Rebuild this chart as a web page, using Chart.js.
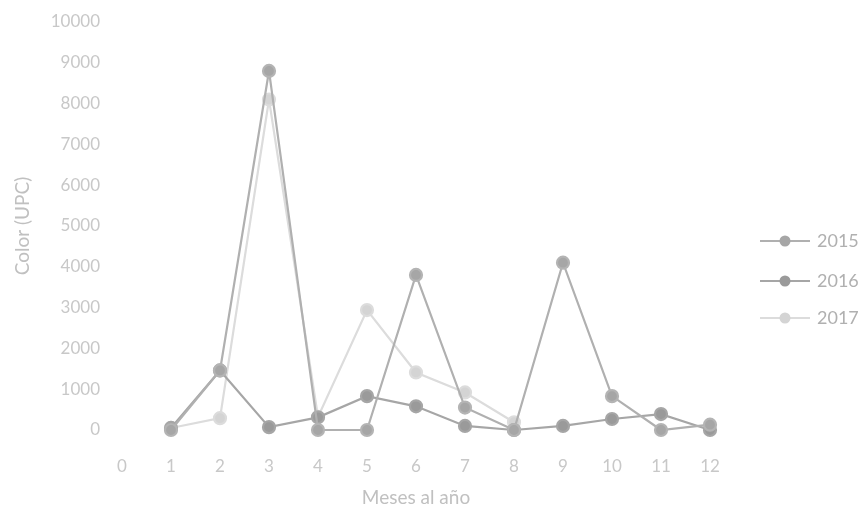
<!DOCTYPE html>
<html lang="es">
<head>
    <meta charset="UTF-8">
    <title>Color (UPC) por mes</title>
    <script src="https://cdn.jsdelivr.net/npm/chart.js"></script>
    <style>
        body {
            margin: 0;
            background: #fff;
        }
        canvas {
            display: block;
        }
    </style>
</head>
<body>
    <canvas id="colorChart" width="865" height="514"></canvas>

    <script>
        // months on the x axis
        const months = [1, 2, 3, 4, 5, 6, 7, 8, 9, 10, 11, 12];

        // Color (UPC)
        const color2015 = [0, 1460, 8800, 0, 0, 3800, 550, 0, 4100, 830, 0, 130];
        const color2016 = [50, 1460, 70, 310, 830, 580, 100, 0, 100, 270, 390, 0];
        const color2017 = [50, 290, 8100, 320, 2940, 1410, 920, 190]; // only up to August

        const seriesLabels = ['2015', '2016', '2017'];

        const textColor = '#c8c8c8';
        const fontName = 'Lato, "Open Sans", sans-serif';

        function toPoints(values) {
            return values.map((v, i) => ({ x: months[i], y: v }));
        }

        // legend drawn at the right, like in the original sheet
        const sideLegend = {
            id: 'sideLegend',
            afterDraw(chart) {
                const ctx = chart.ctx;
                const rows = [241, 281, 318];
                ctx.save();
                chart.data.datasets.forEach((ds, i) => {
                    const y = rows[i];
                    ctx.strokeStyle = ds.borderColor;
                    ctx.lineWidth = 2.2;
                    ctx.beginPath();
                    ctx.moveTo(760, y);
                    ctx.lineTo(810, y);
                    ctx.stroke();
                    ctx.fillStyle = ds.pointBackgroundColor;
                    ctx.beginPath();
                    ctx.arc(785, y, 5.5, 0, Math.PI * 2);
                    ctx.fill();
                    ctx.fillStyle = '#b0b0b0';
                    ctx.font = '18px ' + fontName;
                    ctx.textBaseline = 'middle';
                    ctx.fillText(ds.label, 817, y);
                });
                ctx.restore();
            }
        };

        const ctx = document.getElementById('colorChart').getContext('2d');
        new Chart(ctx, {
            type: 'line',
            data: {
                datasets: [
                    {
                        label: seriesLabels[0],
                        data: toPoints(color2015),
                        borderColor: '#b0b0b0',
                        pointBackgroundColor: '#a6a6a6',
                        pointBorderColor: '#b4b4b4',
                        borderWidth: 2.2,
                        pointRadius: 6,
                        clip: false
                    },
                    {
                        label: seriesLabels[1],
                        data: toPoints(color2016),
                        borderColor: '#a6a6a6',
                        pointBackgroundColor: '#9a9a9a',
                        pointBorderColor: '#a6a6a6',
                        borderWidth: 2.2,
                        pointRadius: 6,
                        clip: false
                    },
                    {
                        label: seriesLabels[2],
                        data: toPoints(color2017),
                        borderColor: '#dcdcdc',
                        pointBackgroundColor: '#d4d4d4',
                        pointBorderColor: '#dcdcdc',
                        borderWidth: 2.2,
                        pointRadius: 6,
                        clip: false
                    }
                ]
            },
            options: {
                responsive: false,
                animation: false,
                layout: {
                    padding: { top: 22, right: 155, left: 0, bottom: 0 }
                },
                plugins: {
                    legend: { display: false },
                    tooltip: { enabled: false }
                },
                scales: {
                    x: {
                        type: 'linear',
                        min: 0,
                        max: 12,
                        grid: { display: false, drawTicks: false },
                        border: { display: false },
                        ticks: {
                            stepSize: 1,
                            padding: 26,
                            color: textColor,
                            font: { family: fontName, size: 17 },
                            callback: value => String(value)
                        },
                        title: {
                            display: true,
                            text: 'Meses al año',
                            color: '#c0c0c0',
                            font: { family: fontName, size: 19 },
                            padding: { top: 0, bottom: 5 }
                        },
                        afterFit(scale) {
                            scale.height = 84;
                            scale.paddingLeft = 0;
                            scale.paddingRight = 0;
                        }
                    },
                    y: {
                        min: 0,
                        max: 10000,
                        grid: { display: false, drawTicks: false },
                        border: { display: false },
                        ticks: {
                            stepSize: 1000,
                            padding: 22,
                            color: textColor,
                            font: { family: fontName, size: 17 },
                            callback: value => String(value)
                        },
                        title: {
                            display: true,
                            text: 'Color (UPC)',
                            color: '#c0c0c0',
                            font: { family: fontName, size: 19 },
                            padding: { top: 11, bottom: 0 }
                        },
                        afterFit(scale) {
                            scale.width = 122;
                            scale.paddingTop = 0;
                            scale.paddingBottom = 0;
                        }
                    }
                }
            },
            plugins: [sideLegend]
        });
    </script>
</body>
</html>
